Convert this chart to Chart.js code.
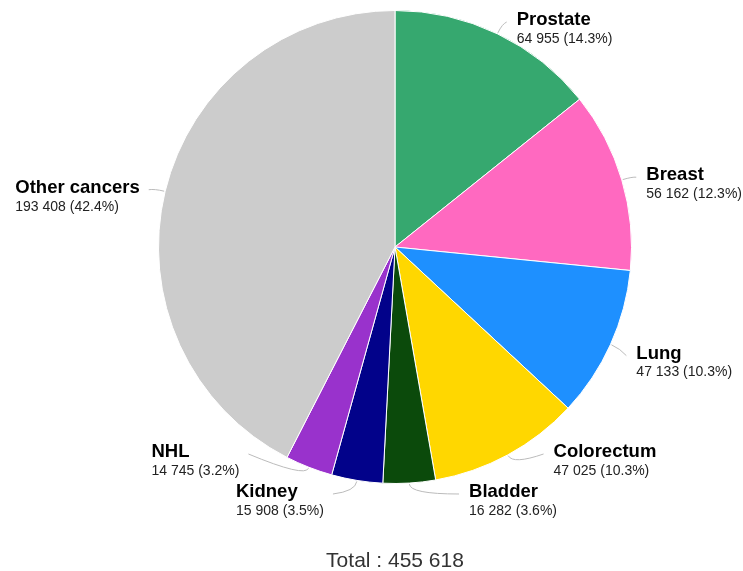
<!doctype html>
<html lang="en">
<head>
<meta charset="utf-8">
<title>Cancer cases</title>
<style>
  html, body { margin: 0; padding: 0; background: #fff; }
</style>
</head>
<body>
<canvas id="myChart" width="743" height="571"></canvas>
<script src="https://cdn.jsdelivr.net/npm/chart.js"></script>
<script>
const cancers = ['Prostate', 'Breast', 'Lung', 'Colorectum', 'Bladder', 'Kidney', 'NHL', 'Other cancers'];
const cases = [64955, 56162, 47133, 47025, 16282, 15908, 14745, 193408];
const colours = ['#36a86f', '#ff69c0', '#1e90ff', '#ffd700', '#0b4a0b', '#02028a', '#9932cc', '#cccccc'];

const total = cases.reduce((a, b) => a + b, 0);
const fmt = n => String(n).replace(/\B(?=(\d{3})+(?!\d))/g, ' ');
const FONT = '"Liberation Sans", Arial, sans-serif';

// labels with leader lines, placed on an ellipse around the pie
const pieLabels = {
  id: 'pieLabels',
  afterDatasetsDraw(chart) {
    const ctx = chart.ctx;
    const arcs = chart.getDatasetMeta(0).data;
    const cx = arcs[0].x, cy = arcs[0].y, r = arcs[0].outerRadius;
    const rx = r + 26, ry = r + 18, gap = 40;
    const top = chart.chartArea.top + 10, bottom = chart.chartArea.bottom + 8;

    const items = arcs.map((arc, i) => {
      const mid = (arc.startAngle + arc.endAngle) / 2;
      const c = Math.cos(mid), s = Math.sin(mid);
      return { i, c, s, right: c >= 0, y: cy + (r + 20) * s + 1 };
    });

    [true, false].forEach(side => {
      const list = items.filter(o => o.right === side).sort((a, b) => a.y - b.y);
      list.forEach(o => { o.y = Math.min(Math.max(o.y, top), bottom); });
      for (let k = list.length - 2; k >= 0; k--) {
        if (list[k + 1].y - list[k].y < gap) list[k].y = list[k + 1].y - gap;
      }
      for (let k = 1; k < list.length; k++) {
        if (list[k].y - list[k - 1].y < gap) list[k].y = list[k - 1].y + gap;
      }
    });

    ctx.save();
    items.forEach(o => {
      const name = cancers[o.i];
      const value = fmt(cases[o.i]) + ' (' + (cases[o.i] / total * 100).toFixed(1) + '%)';
      ctx.font = 'bold 18.5px ' + FONT;
      const w1 = ctx.measureText(name).width;
      ctx.font = '14px ' + FONT;
      const w2 = ctx.measureText(value).width;
      const w = Math.max(w1, w2);

      const t = (o.y - cy) / ry;
      const dx = rx * Math.sqrt(Math.max(0, 1 - t * t));
      let textX, px;
      if (o.right) {
        textX = Math.min(cx + dx + 3, chart.width - w - 1);
        px = textX - 10;
      } else {
        textX = Math.max(cx - dx - w, 1);
        px = textX + w + 9;
      }

      // leader line: radial stub from the slice, then across to the label
      const ex = cx + (r + 1) * o.c, ey = cy + (r + 1) * o.s;
      const bx = ex + 10 * o.c, by = ey + 10 * o.s;
      ctx.strokeStyle = '#bbbbbb';
      ctx.lineWidth = 1;
      ctx.beginPath();
      ctx.moveTo(px, o.y + 2);
      ctx.quadraticCurveTo(bx, by, ex, ey);
      ctx.stroke();

      ctx.textAlign = 'left';
      ctx.textBaseline = 'middle';
      ctx.fillStyle = '#000';
      ctx.font = 'bold 18.5px ' + FONT;
      ctx.fillText(name, textX, o.y);
      ctx.fillStyle = '#222';
      ctx.font = '14px ' + FONT;
      ctx.fillText(value, textX, o.y + 19);
    });

    // total under the pie
    ctx.fillStyle = '#333';
    ctx.font = '21px ' + FONT;
    ctx.textAlign = 'center';
    ctx.textBaseline = 'middle';
    ctx.fillText('Total : ' + fmt(total), cx, chart.chartArea.bottom + 77);
    ctx.restore();
  }
};

const data = {
  labels: cancers,
  datasets: [{
    data: cases,
    backgroundColor: colours,
    borderColor: '#ffffff',
    borderWidth: 1
  }]
};

const config = {
  type: 'pie',
  data,
  options: {
    responsive: false,
    animation: false,
    layout: { padding: { top: 10, bottom: 87, left: 158, right: 111 } },
    plugins: {
      legend: { display: false },
      tooltip: { enabled: false }
    }
  },
  plugins: [pieLabels]
};

const myChart = new Chart(document.getElementById('myChart'), config);
</script>
</body>
</html>
